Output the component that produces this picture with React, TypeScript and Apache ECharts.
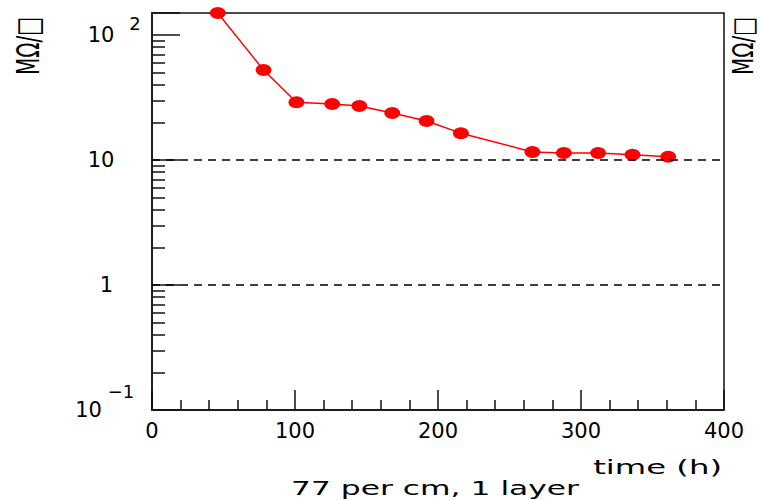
import React, { useEffect, useRef } from 'react';
import * as echarts from 'echarts';

// ---- data ----
const TIME_H = [46, 78, 101, 126, 145, 168, 192, 216, 266, 288, 312, 336, 361];
const RESISTANCE = [150, 52.5, 29, 28, 27, 23.8, 20.5, 16.4, 11.6, 11.4, 11.4, 11.0, 10.6];

const X_MIN = 0;
const X_MAX = 400;
const X_STEP = 100;
const Y_MIN = 0.1;
const Y_MAX = 150;
const Y_MINOR_TICKS = [
  0.2, 0.3, 0.4, 0.5, 0.6, 0.7, 0.8, 0.9,
  2, 3, 4, 5, 6, 7, 8, 9,
  20, 30, 40, 50, 60, 70, 80, 90,
];
const DASHED_LEVELS = [10, 1];

const Y_TITLE = 'MΩ/□';
const X_TITLE = 'time (h)';
const CAPTION = '77 per cm, 1 layer';

const FONT = 'DejaVu Sans';

export default function App() {
  const ref = useRef<HTMLDivElement>(null);

  useEffect(() => {
    if (!ref.current) return;
    const chart = echarts.init(ref.current, undefined, { renderer: 'svg' });

    const points = TIME_H.map((t, i) => [t, RESISTANCE[i]]);

    const yLabel = (v: number) => {
      const l = Math.log10(v);
      const e = Math.round(l);
      if (Math.abs(l - e) > 0.01) return '';
      if (e === 2) return '{n2|10}{s2|2}';
      if (e === 1) return '{n1|10}';
      if (e === 0) return '{n0|1}';
      if (e === -1) return '{nm|10}{sm|−1}';
      return '';
    };

    const option: any = {
      animation: false,
      backgroundColor: '#fff',
      grid: {
        left: 152,
        right: 36,
        top: 13,
        bottom: 90,
        show: true,
        borderColor: '#111',
        borderWidth: 1.5,
        backgroundColor: 'transparent',
      },
      xAxis: {
        type: 'value',
        min: X_MIN,
        max: X_MAX,
        interval: X_STEP,
        axisLine: { show: true, onZero: false, lineStyle: { color: '#111', width: 1.5 } },
        axisTick: { show: true, inside: true, length: 20, lineStyle: { color: '#111', width: 1.5 } },
        minorTick: { show: true, splitNumber: 5, length: 10, lineStyle: { color: '#111', width: 1.5 } },
        splitLine: { show: false },
        axisLabel: { color: '#000', fontFamily: FONT, fontSize: 21, margin: 10 },
      },
      yAxis: [
        {
          type: 'log',
          logBase: 10,
          min: Y_MIN,
          max: Y_MAX,
          position: 'left',
          axisLine: { show: true, onZero: false, lineStyle: { color: '#111', width: 1.5 } },
          axisTick: { show: true, inside: true, length: 28, lineStyle: { color: '#111', width: 1.5 } },
          splitLine: { show: false },
          axisLabel: {
            margin: 9,
            color: '#000',
            fontFamily: FONT,
            formatter: yLabel,
            rich: {
              n2: { fontFamily: FONT, fontSize: 21, color: '#000', width: 36, align: 'center', lineHeight: 42, verticalAlign: 'middle' },
              s2: { fontFamily: FONT, fontSize: 18, color: '#000', width: 16, align: 'center', lineHeight: 20, verticalAlign: 'top', padding: [0, 0, 0, 8] },
              n1: { fontFamily: FONT, fontSize: 21, color: '#000', width: 36, align: 'center', padding: [0, 24, 0, 0] },
              n0: { fontFamily: FONT, fontSize: 21, color: '#000', width: 14, align: 'right', padding: [0, 30, 0, 0] },
              nm: { fontFamily: FONT, fontSize: 21, color: '#000', width: 33, align: 'center', lineHeight: 56, verticalAlign: 'middle' },
              sm: { fontFamily: FONT, fontSize: 18, color: '#000', width: 32, align: 'center', lineHeight: 20, verticalAlign: 'top', padding: [0, 6, 0, 0] },
            },
          },
        },
        {
          // overlay axis (log10 space) used only to draw the minor decade ticks
          type: 'value',
          min: Math.log10(Y_MIN),
          max: Math.log10(Y_MAX),
          position: 'left',
          axisLine: { show: false },
          axisLabel: { show: false },
          splitLine: { show: false },
          axisTick: {
            show: true,
            inside: true,
            length: 13,
            customValues: Y_MINOR_TICKS.map((v) => Math.log10(v)),
            lineStyle: { color: '#111', width: 1.5 },
          },
        },
      ],
      series: [
        {
          type: 'line',
          xAxisIndex: 0,
          yAxisIndex: 0,
          data: points,
          showSymbol: true,
          showAllSymbol: true,
          symbol: 'path://M-1,0A1,1,0,1,0,1,0A1,1,0,1,0,-1,0Z',
          symbolSize: [16, 12],
          lineStyle: { color: '#ff0000', width: 1.5 },
          itemStyle: { color: '#ff0000' },
          z: 3,
          markLine: {
            silent: true,
            symbol: ['none', 'none'],
            label: { show: false },
            lineStyle: { color: '#000', type: [8, 6], width: 1.5 },
            data: DASHED_LEVELS.map((v) => ({ yAxis: v })),
          },
        },
      ],
      graphic: [
        {
          type: 'text',
          x: 28,
          y: 46,
          rotation: Math.PI / 2,
          scaleY: 1.6,
          style: { text: Y_TITLE, fontFamily: FONT, fontSize: 20, fill: '#000', align: 'center', verticalAlign: 'middle' },
        },
        {
          type: 'text',
          x: 743,
          y: 46,
          rotation: Math.PI / 2,
          scaleY: 1.45,
          style: { text: Y_TITLE, fontFamily: FONT, fontSize: 20, fill: '#000', align: 'center', verticalAlign: 'middle' },
        },
        {
          type: 'text',
          x: 722,
          y: 467,
          scaleX: 1.7,
          style: { text: X_TITLE, fontFamily: FONT, fontSize: 19, fill: '#000', align: 'right', verticalAlign: 'middle' },
        },
        {
          type: 'text',
          x: 435,
          y: 488,
          scaleX: 1.65,
          style: { text: CAPTION, fontFamily: FONT, fontSize: 19, fill: '#000', align: 'center', verticalAlign: 'middle' },
        },
      ],
    };

    chart.setOption(option);
    return () => chart.dispose();
  }, []);

  return (
    <div
      ref={ref}
      style={{ position: 'fixed', left: 0, top: 0, width: 760, height: 500, background: '#fff' }}
    />
  );
}
